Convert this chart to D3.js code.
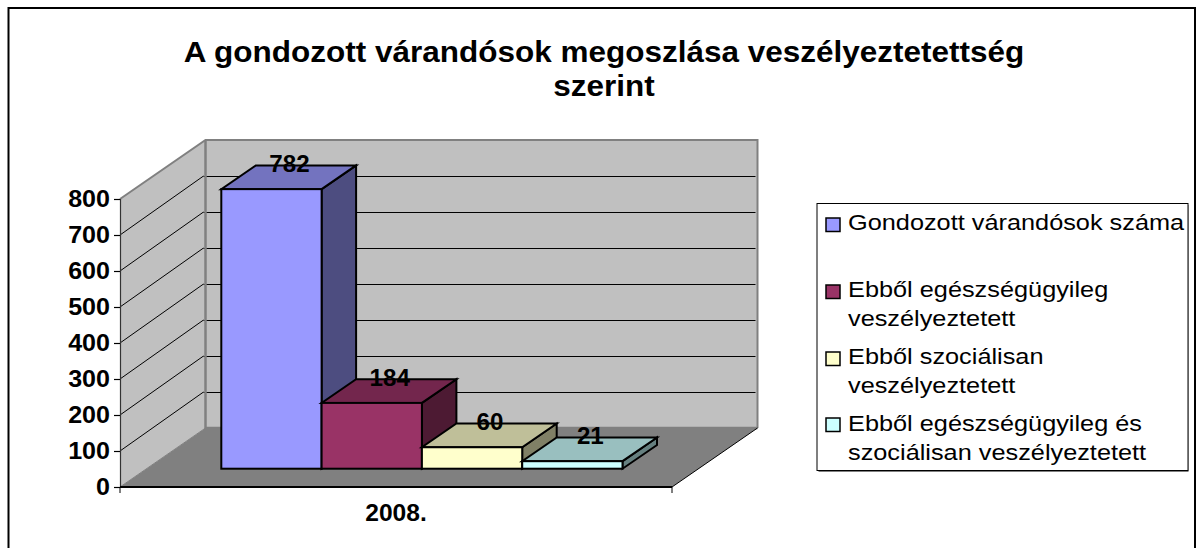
<!DOCTYPE html>
<html><head><meta charset="utf-8">
<style>html,body{margin:0;padding:0;background:#fff}svg{display:block}text{font-family:"Liberation Sans",Arial,sans-serif;fill:#000}</style>
<script src="https://cdn.jsdelivr.net/npm/d3@7/dist/d3.min.js"></script>
</head><body><svg id="c" width="1198" height="548"></svg>
<script>
const categories = ["2008."];
const seriesNames = ["Gondozott várandósok száma","Ebből egészségügyileg veszélyeztetett","Ebből szociálisan veszélyeztetett","Ebből egészségügyileg és szociálisan veszélyeztetett"];
const seriesValues = [782,184,60,21];
const seriesColors = ["#9999FF","#993366","#FFFFCC","#CCFFFF"];
const yTicks = [0,100,200,300,400,500,600,700,800];
const titleLines = ["A gondozott várandósok megoszlása veszélyeztetettség","szerint"];
const legendLines = [["Gondozott várandósok száma"],["Ebből egészségügyileg","veszélyeztetett"],["Ebből szociálisan","veszélyeztetett"],["Ebből egészségügyileg és","szociálisan veszélyeztetett"]];

const svg = d3.select("#c");
function label(g,x,y,s,size,weight,anchor,sx){
  return g.append("text").attr("transform",`translate(${x},${y}) scale(${sx},1)`)
    .attr("font-size",size).attr("font-weight",weight).attr("text-anchor",anchor).text(s);
}
// frame
svg.append("rect").attr("x",8.5).attr("y",8).attr("width",1186.5).attr("height",560).attr("fill","#fff").attr("stroke","#000").attr("stroke-width",2);
const tg = svg.append("g");
label(tg,604,62,titleLines[0],29,"bold","middle",1.086);
label(tg,604,96,titleLines[1],29,"bold","middle",1.086);

const y = d3.scaleLinear().domain([0,800]).range([487,199]);
const x0 = 120, x1 = 672, dX = 85.5, dY = -59;
const xCat = d3.scaleBand().domain(categories).range([x0,x1]);
const xBar = d3.scaleBand().domain(seriesNames).range([221.3,622.5]);
const yBar = d3.scaleLinear().domain([0,800]).range([468.7,182.7]);
const bdX = 34.5, bdY = -23.7;
const poly = pts => pts.map(p=>p.join(",")).join(" ");
const chart = svg.append("g");
const yTop = y(800), yBot = y(0);
// floor
chart.append("polygon").attr("points",poly([[x0,yBot],[x1,yBot],[x1+dX,yBot+dY],[x0+dX,yBot+dY]])).attr("fill","#808080");
// left wall
chart.append("polygon").attr("points",poly([[x0,yBot],[x0,yTop],[x0+dX,yTop+dY],[x0+dX,yBot+dY]])).attr("fill","#C0C0C0");
// back wall
chart.append("polygon").attr("points",poly([[x0+dX,yBot+dY],[x0+dX,yTop+dY],[x1+dX,yTop+dY],[x1+dX,yBot+dY]])).attr("fill","#C0C0C0");
// gridlines
yTicks.slice(1,-1).forEach(t=>{
  chart.append("line").attr("x1",x0).attr("y1",y(t)).attr("x2",x0+dX-2).attr("y2",y(t)+dY).attr("stroke","#000").attr("stroke-width",1);
  chart.append("line").attr("x1",x0+dX-2).attr("y1",Math.round(y(t)+dY)+0.5).attr("x2",x1+dX-2).attr("y2",Math.round(y(t)+dY)+0.5).attr("stroke","#000").attr("stroke-width",1);
});
// wall edges
chart.append("polyline").attr("points",poly([[x0,yTop],[x0+dX,yTop+dY],[x1+dX,yTop+dY],[x1+dX,yBot+dY]])).attr("fill","none").attr("stroke","#808080").attr("stroke-width",2);
chart.append("polyline").attr("points",poly([[x0+dX,yTop+dY],[x0+dX,yBot+dY],[x1+dX,yBot+dY]])).attr("fill","none").attr("stroke","#808080").attr("stroke-width",2.5);
chart.append("line").attr("x1",x1).attr("y1",yBot).attr("x2",x1+dX).attr("y2",yBot+dY).attr("stroke","#000").attr("stroke-width",1);
chart.append("line").attr("x1",x0).attr("y1",yBot).attr("x2",x0+dX).attr("y2",yBot+dY).attr("stroke","#808080").attr("stroke-width",1);
// axes
const yAxis = d3.axisLeft(y).tickValues(yTicks).tickSize(6).tickFormat("");
const ag = chart.append("g").attr("transform",`translate(${x0},0)`).call(yAxis);
ag.selectAll("path,line").attr("stroke","#000").attr("stroke-width",1.2);
ag.select("path").attr("stroke","#333");
const xg = chart.append("g").attr("transform",`translate(0,${yBot})`);
xg.append("line").attr("x1",x0).attr("x2",x1).attr("stroke","#000").attr("stroke-width",2);
[x0,x1].forEach(v=>xg.append("line").attr("x1",v).attr("x2",v).attr("y2",6).attr("stroke","#000").attr("stroke-width",1));
yTicks.forEach(t=>label(svg,110,y(t)+8,String(t),23,"bold","end",1.09));
categories.forEach(c=>label(svg,xCat(c)+xCat.bandwidth()/2,521,c,23,"bold","middle",1.07));
// bars
const shade = (c,k)=>{const o=d3.color(c);return d3.rgb(o.r*k,o.g*k,o.b*k).formatHex();};
const bars = svg.append("g").attr("stroke","#000").attr("stroke-width",2).attr("stroke-linejoin","miter");
seriesNames.forEach((n,i)=>{
  const l=xBar(n), r=l+xBar.bandwidth(), b=yBar(0), t=yBar(seriesValues[i]);
  bars.append("polygon").attr("points",poly([[r,b],[r,t],[r+bdX,t+bdY],[r+bdX,b+bdY]])).attr("fill",shade(seriesColors[i],0.5));
  bars.append("polygon").attr("points",poly([[l,t],[r,t],[r+bdX,t+bdY],[l+bdX,t+bdY]])).attr("fill",shade(seriesColors[i],0.75));
  bars.append("rect").attr("x",l).attr("y",t).attr("width",r-l).attr("height",b-t).attr("fill",seriesColors[i]);
});
seriesNames.forEach((n,i)=>{
  label(svg,xBar(n)+xBar.bandwidth()/2+18,yBar(seriesValues[i])-17,String(seriesValues[i]),23,"bold","middle",1.05);
});
// legend
const lg = svg.append("g");
lg.append("rect").attr("x",818.5).attr("y",205).attr("width",370).attr("height",267).attr("fill","#808080");
lg.append("rect").attr("x",817).attr("y",203.5).attr("width",371).attr("height",267).attr("fill","#fff").attr("stroke","#000").attr("stroke-width",1);
const swatchY=[218,285,352,418], lineY=[[230],[297,326],[364,393],[431,460]];
seriesNames.forEach((n,i)=>{
  lg.append("rect").attr("x",826).attr("y",swatchY[i]).attr("width",14).attr("height",13.5).attr("fill",seriesColors[i]).attr("stroke","#000").attr("stroke-width",1.5);
  legendLines[i].forEach((s,j)=>label(lg,848,lineY[i][j],s,22.5,"normal","start",1.125));
});
</script></body></html>
